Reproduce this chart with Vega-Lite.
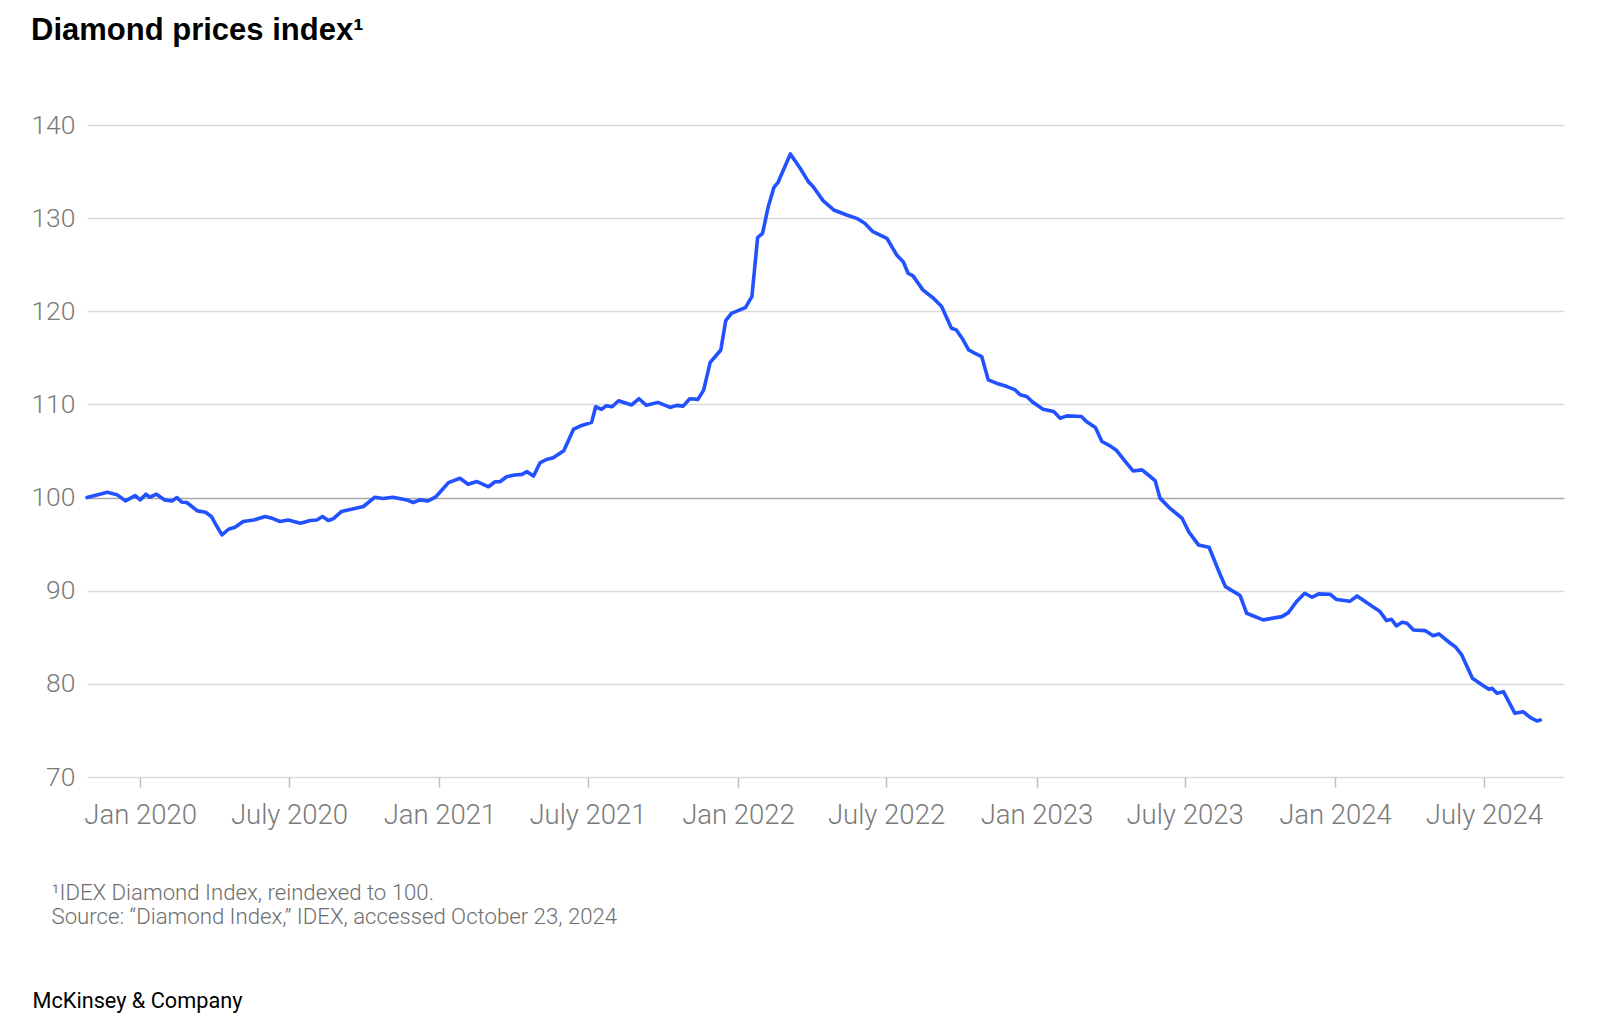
{
  "$schema": "https://vega.github.io/schema/vega-lite/v6.json",
  "width": 1477,
  "height": 652,
  "autosize": {"type": "none"},
  "padding": {"left": 87, "top": 125, "right": 36, "bottom": 244},
  "background": "white",
  "config": {"view": {"stroke": null}},
  "title": {
    "text": "Diamond prices index¹",
    "anchor": "start",
    "frame": "group",
    "dx": -56,
    "offset": 41,
    "baseline": "alphabetic",
    "font": "Liberation Sans",
    "fontSize": 31,
    "fontWeight": "bold",
    "color": "#000000"
  },
  "data": {
    "values": [
      {"date": "2019-10-28", "value": 100.0},
      {"date": "2019-11-22", "value": 100.57},
      {"date": "2019-12-04", "value": 100.29},
      {"date": "2019-12-14", "value": 99.64},
      {"date": "2019-12-26", "value": 100.21},
      {"date": "2020-01-01", "value": 99.75},
      {"date": "2020-01-08", "value": 100.36},
      {"date": "2020-01-13", "value": 100.04},
      {"date": "2020-01-21", "value": 100.36},
      {"date": "2020-01-31", "value": 99.75},
      {"date": "2020-02-09", "value": 99.64},
      {"date": "2020-02-15", "value": 100.0},
      {"date": "2020-02-21", "value": 99.5},
      {"date": "2020-02-27", "value": 99.47},
      {"date": "2020-03-11", "value": 98.57},
      {"date": "2020-03-21", "value": 98.43},
      {"date": "2020-03-28", "value": 97.97},
      {"date": "2020-04-04", "value": 96.89},
      {"date": "2020-04-10", "value": 95.99},
      {"date": "2020-04-18", "value": 96.6},
      {"date": "2020-04-26", "value": 96.82},
      {"date": "2020-05-06", "value": 97.43},
      {"date": "2020-05-19", "value": 97.6},
      {"date": "2020-06-02", "value": 97.97},
      {"date": "2020-06-10", "value": 97.79},
      {"date": "2020-06-20", "value": 97.43},
      {"date": "2020-06-30", "value": 97.6},
      {"date": "2020-07-15", "value": 97.25},
      {"date": "2020-07-27", "value": 97.54},
      {"date": "2020-08-04", "value": 97.6},
      {"date": "2020-08-11", "value": 97.97},
      {"date": "2020-08-18", "value": 97.54},
      {"date": "2020-08-24", "value": 97.72},
      {"date": "2020-09-03", "value": 98.5},
      {"date": "2020-09-18", "value": 98.79},
      {"date": "2020-09-30", "value": 99.04},
      {"date": "2020-10-14", "value": 100.04},
      {"date": "2020-10-24", "value": 99.9},
      {"date": "2020-11-05", "value": 100.04},
      {"date": "2020-11-22", "value": 99.75},
      {"date": "2020-11-30", "value": 99.47},
      {"date": "2020-12-08", "value": 99.75},
      {"date": "2020-12-18", "value": 99.64},
      {"date": "2020-12-27", "value": 100.04},
      {"date": "2021-01-04", "value": 100.82},
      {"date": "2021-01-12", "value": 101.61},
      {"date": "2021-01-26", "value": 102.08},
      {"date": "2021-02-05", "value": 101.43},
      {"date": "2021-02-16", "value": 101.72},
      {"date": "2021-03-02", "value": 101.16},
      {"date": "2021-03-10", "value": 101.7},
      {"date": "2021-03-16", "value": 101.7},
      {"date": "2021-03-24", "value": 102.24},
      {"date": "2021-04-03", "value": 102.42},
      {"date": "2021-04-12", "value": 102.49},
      {"date": "2021-04-18", "value": 102.78},
      {"date": "2021-04-26", "value": 102.31},
      {"date": "2021-05-04", "value": 103.74},
      {"date": "2021-05-12", "value": 104.1},
      {"date": "2021-05-20", "value": 104.28},
      {"date": "2021-06-02", "value": 105.03},
      {"date": "2021-06-14", "value": 107.36},
      {"date": "2021-06-22", "value": 107.68},
      {"date": "2021-07-06", "value": 108.07},
      {"date": "2021-07-11", "value": 109.75},
      {"date": "2021-07-18", "value": 109.47},
      {"date": "2021-07-24", "value": 109.86},
      {"date": "2021-07-31", "value": 109.75},
      {"date": "2021-08-08", "value": 110.4},
      {"date": "2021-08-24", "value": 109.94},
      {"date": "2021-09-02", "value": 110.61},
      {"date": "2021-09-11", "value": 109.9},
      {"date": "2021-09-25", "value": 110.22},
      {"date": "2021-10-10", "value": 109.68},
      {"date": "2021-10-18", "value": 109.9},
      {"date": "2021-10-26", "value": 109.82},
      {"date": "2021-11-03", "value": 110.61},
      {"date": "2021-11-13", "value": 110.54},
      {"date": "2021-11-20", "value": 111.54},
      {"date": "2021-11-28", "value": 114.51},
      {"date": "2021-12-04", "value": 115.12},
      {"date": "2021-12-11", "value": 115.84},
      {"date": "2021-12-17", "value": 118.99},
      {"date": "2021-12-24", "value": 119.78},
      {"date": "2022-01-10", "value": 120.39},
      {"date": "2022-01-18", "value": 121.57},
      {"date": "2022-01-25", "value": 127.9},
      {"date": "2022-01-31", "value": 128.37},
      {"date": "2022-02-07", "value": 131.23},
      {"date": "2022-02-14", "value": 133.31},
      {"date": "2022-02-19", "value": 133.85},
      {"date": "2022-03-06", "value": 136.89},
      {"date": "2022-03-18", "value": 135.35},
      {"date": "2022-03-28", "value": 133.92},
      {"date": "2022-04-03", "value": 133.38},
      {"date": "2022-04-15", "value": 131.88},
      {"date": "2022-04-28", "value": 130.88},
      {"date": "2022-05-14", "value": 130.34},
      {"date": "2022-05-26", "value": 129.98},
      {"date": "2022-06-05", "value": 129.45},
      {"date": "2022-06-15", "value": 128.55},
      {"date": "2022-07-02", "value": 127.84},
      {"date": "2022-07-14", "value": 126.05},
      {"date": "2022-07-22", "value": 125.33},
      {"date": "2022-07-28", "value": 124.08},
      {"date": "2022-08-03", "value": 123.8},
      {"date": "2022-08-15", "value": 122.3},
      {"date": "2022-08-28", "value": 121.4},
      {"date": "2022-09-07", "value": 120.51},
      {"date": "2022-09-19", "value": 118.18},
      {"date": "2022-09-25", "value": 118.0},
      {"date": "2022-10-02", "value": 117.11},
      {"date": "2022-10-10", "value": 115.86},
      {"date": "2022-10-16", "value": 115.57},
      {"date": "2022-10-26", "value": 115.14},
      {"date": "2022-11-03", "value": 112.64},
      {"date": "2022-11-13", "value": 112.28},
      {"date": "2022-11-26", "value": 111.92},
      {"date": "2022-12-06", "value": 111.56},
      {"date": "2022-12-12", "value": 111.03},
      {"date": "2022-12-20", "value": 110.85},
      {"date": "2022-12-28", "value": 110.2},
      {"date": "2023-01-09", "value": 109.49},
      {"date": "2023-01-22", "value": 109.24},
      {"date": "2023-01-30", "value": 108.52},
      {"date": "2023-02-07", "value": 108.77},
      {"date": "2023-02-25", "value": 108.7},
      {"date": "2023-03-03", "value": 108.16},
      {"date": "2023-03-14", "value": 107.52},
      {"date": "2023-03-22", "value": 106.02},
      {"date": "2023-04-01", "value": 105.55},
      {"date": "2023-04-09", "value": 105.05},
      {"date": "2023-04-19", "value": 103.94},
      {"date": "2023-04-29", "value": 102.86},
      {"date": "2023-05-10", "value": 102.97},
      {"date": "2023-05-20", "value": 102.26},
      {"date": "2023-05-26", "value": 101.83},
      {"date": "2023-06-01", "value": 99.94},
      {"date": "2023-06-13", "value": 98.86},
      {"date": "2023-06-28", "value": 97.78},
      {"date": "2023-07-06", "value": 96.35},
      {"date": "2023-07-18", "value": 94.92},
      {"date": "2023-07-31", "value": 94.67},
      {"date": "2023-08-12", "value": 92.06},
      {"date": "2023-08-20", "value": 90.44},
      {"date": "2023-09-07", "value": 89.48},
      {"date": "2023-09-15", "value": 87.58},
      {"date": "2023-10-05", "value": 86.87},
      {"date": "2023-10-28", "value": 87.22},
      {"date": "2023-11-05", "value": 87.65},
      {"date": "2023-11-15", "value": 88.84},
      {"date": "2023-11-25", "value": 89.73},
      {"date": "2023-12-04", "value": 89.3},
      {"date": "2023-12-12", "value": 89.66},
      {"date": "2023-12-26", "value": 89.62},
      {"date": "2024-01-03", "value": 89.05},
      {"date": "2024-01-19", "value": 88.86},
      {"date": "2024-01-28", "value": 89.44},
      {"date": "2024-02-09", "value": 88.7},
      {"date": "2024-02-25", "value": 87.76},
      {"date": "2024-03-04", "value": 86.79},
      {"date": "2024-03-10", "value": 86.94},
      {"date": "2024-03-16", "value": 86.22},
      {"date": "2024-03-23", "value": 86.61},
      {"date": "2024-03-29", "value": 86.5},
      {"date": "2024-04-06", "value": 85.79},
      {"date": "2024-04-20", "value": 85.72},
      {"date": "2024-04-30", "value": 85.16},
      {"date": "2024-05-07", "value": 85.36},
      {"date": "2024-05-21", "value": 84.36},
      {"date": "2024-05-27", "value": 83.99},
      {"date": "2024-06-04", "value": 83.1},
      {"date": "2024-06-17", "value": 80.59},
      {"date": "2024-06-29", "value": 79.88},
      {"date": "2024-07-07", "value": 79.41},
      {"date": "2024-07-11", "value": 79.52},
      {"date": "2024-07-17", "value": 78.98},
      {"date": "2024-07-25", "value": 79.16},
      {"date": "2024-08-08", "value": 76.84},
      {"date": "2024-08-18", "value": 77.01},
      {"date": "2024-08-27", "value": 76.37},
      {"date": "2024-09-04", "value": 76.01},
      {"date": "2024-09-08", "value": 76.12}
    ]
  },
  "mark": {"type": "line", "color": "#2251ff", "strokeWidth": 3.6, "strokeJoin": "round", "strokeCap": "round"},
  "encoding": {
    "x": {
      "field": "date",
      "type": "temporal",
      "scale": {
        "type": "utc",
        "domain": [
          {"year": 2019, "month": 10, "date": 28, "utc": true},
          {"year": 2024, "month": 10, "date": 7, "utc": true}
        ]
      },
      "axis": {
        "values": [
          {"year": 2020, "month": 1, "date": 1, "utc": true},
          {"year": 2020, "month": 7, "date": 1, "utc": true},
          {"year": 2021, "month": 1, "date": 1, "utc": true},
          {"year": 2021, "month": 7, "date": 1, "utc": true},
          {"year": 2022, "month": 1, "date": 1, "utc": true},
          {"year": 2022, "month": 7, "date": 1, "utc": true},
          {"year": 2023, "month": 1, "date": 1, "utc": true},
          {"year": 2023, "month": 7, "date": 1, "utc": true},
          {"year": 2024, "month": 1, "date": 1, "utc": true},
          {"year": 2024, "month": 7, "date": 1, "utc": true}
        ],
        "labelExpr": "(utcmonth(datum.value) == 0 ? 'Jan ' : 'July ') + utcyear(datum.value)",
        "domain": false,
        "grid": false,
        "ticks": true,
        "tickSize": 10,
        "tickColor": "#bdbdbd",
        "tickWidth": 1.5,
        "labelFont": "Roboto",
        "labelFontWeight": 300,
        "labelFontSize": 27.5,
        "labelColor": "#7a7a7a",
        "labelPadding": 14,
        "labelFlush": false,
        "labelOverlap": false,
        "title": ["¹IDEX Diamond Index, reindexed to 100.", "\u2002Source: “Diamond Index,” IDEX, accessed October 23, 2024"],
        "titleFont": "Roboto",
        "titleFontWeight": 300,
        "titleFontSize": 22.2,
        "titleColor": "#6e6e6e",
        "titleAnchor": "start",
        "titleAlign": "left",
        "titleBaseline": "alphabetic",
        "titleLineHeight": 24.5,
        "titleX": -36,
        "titleY": 122
      }
    },
    "y": {
      "field": "value",
      "type": "quantitative",
      "scale": {"domain": [70, 140], "nice": false, "zero": false},
      "axis": {
        "values": [70, 80, 90, 100, 110, 120, 130, 140],
        "domain": false,
        "ticks": false,
        "grid": true,
        "gridColor": {"condition": {"test": "datum.value === 100", "value": "#a8a8a8"}, "value": "#d9d9d9"},
        "gridWidth": 1.5,
        "labelFont": "Roboto",
        "labelFontWeight": 300,
        "labelFontSize": 26.5,
        "labelColor": "#7a7a7a",
        "labelPadding": 12,
        "title": "McKinsey & Company",
        "titleAngle": 0,
        "titleFont": "Roboto",
        "titleFontWeight": 400,
        "titleFontSize": 21.7,
        "titleColor": "#000000",
        "titleAlign": "left",
        "titleBaseline": "alphabetic",
        "titleAnchor": "start",
        "titleX": -55,
        "titleY": 882
      }
    }
  }
}
